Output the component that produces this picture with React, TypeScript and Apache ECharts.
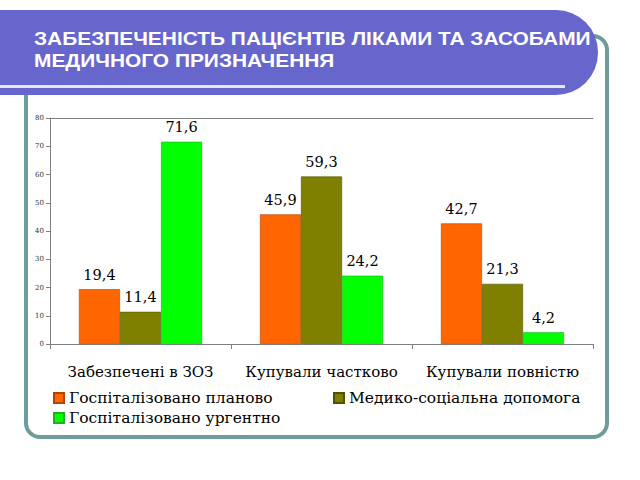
import React, { useEffect, useRef } from "react";
import * as echarts from "echarts";

const categories = ["Забезпечені в ЗОЗ", "Купували частково", "Купували повністю"];
const seriesNames = ["Госпіталізовано планово", "Медико-соціальна допомога", "Госпіталізовано ургентно"];
const plannedValues = [19.4, 45.9, 42.7];
const socialValues = [11.4, 59.3, 21.3];
const urgentValues = [71.6, 24.2, 4.2];
const colors = ["#FF6600", "#808000", "#00FF00"];
const borderColors = ["#B04400", "#505000", "#20B020"];
const titleLines = ["ЗАБЕЗПЕЧЕНІСТЬ ПАЦІЄНТІВ ЛІКАМИ ТА ЗАСОБАМИ", "МЕДИЧНОГО ПРИЗНАЧЕННЯ"];

const serif = "DejaVu Serif";

export default function App() {
  const ref = useRef<HTMLDivElement>(null);
  useEffect(() => {
    if (!ref.current) return;
    const chart = echarts.init(ref.current, undefined, { renderer: "svg" });
    const data = [plannedValues, socialValues, urgentValues];
    chart.setOption({
      animation: false,
      backgroundColor: "#ffffff",
      graphic: [
        {
          type: "rect",
          z: 0,
          shape: { x: 26, y: 36, width: 581, height: 401, r: 14 },
          style: { fill: "#ffffff", stroke: "#6E9C9A", lineWidth: 4 },
        },
        {
          type: "rect",
          z: 1,
          shape: { x: -50, y: 10, width: 648, height: 85, r: [0, 42, 42, 0] },
          style: { fill: "#6666CC" },
        },
        {
          type: "rect",
          z: 2,
          shape: { x: 0, y: 85, width: 565, height: 3 },
          style: { fill: "#E6E6F8" },
        },
        {
          type: "text",
          z: 3,
          x: 34,
          y: 27,
          scaleX: 1.1,
          style: {
            text: titleLines.join("\n"),
            fill: "#ffffff",
            font: "bold 19px Liberation Sans",
            lineHeight: 22,
          },
        },
      ],
      grid: { left: 50, right: 47, top: 118, bottom: 136, containLabel: false },
      legend: seriesNames.map((name, i) => ({
        data: [name],
        left: i === 1 ? 328 : 48,
        top: i === 2 ? 405 : 385,
        itemWidth: 10,
        itemHeight: 10,
        itemGap: 5,
        icon: "rect",
        selectedMode: false,
        textStyle: { fontFamily: serif, fontSize: 15.5, color: "#000" },
      })),
      xAxis: [
        {
          type: "category",
          data: categories,
          axisLine: { lineStyle: { color: "#808080", width: 1 } },
          axisTick: { show: true, alignWithLabel: false, length: 5, lineStyle: { color: "#808080" } },
          axisLabel: { interval: 0, fontFamily: serif, fontSize: 15, color: "#000", margin: 20 },
        },
        {
          type: "category",
          position: "top",
          data: categories,
          axisLine: { lineStyle: { color: "#808080", width: 1 } },
          axisTick: { show: false },
          axisLabel: { show: false },
        },
      ],
      yAxis: {
        type: "value",
        min: 0,
        max: 80,
        interval: 10,
        axisLine: { show: true, lineStyle: { color: "#808080" } },
        axisTick: { show: true, length: 4, lineStyle: { color: "#808080" } },
        splitLine: { show: false },
        axisLabel: { fontFamily: serif, fontSize: 7, color: "#333", margin: 6 },
      },
      series: seriesNames.map((name, i) => ({
        name,
        type: "bar",
        data: data[i],
        barGap: "0%",
        barCategoryGap: "32%",
        itemStyle: { color: colors[i], borderColor: borderColors[i], borderWidth: 0.6 },
        label: {
          show: true,
          position: "top",
          distance: 7,
          fontFamily: serif,
          fontSize: 14.5,
          color: "#000",
          formatter: (p: any) => String(p.value).replace(".", ","),
        },
      })),
    });
    return () => chart.dispose();
  }, []);
  return (
    <div
      ref={ref}
      style={{ position: "fixed", left: 0, top: 0, width: 640, height: 480 }}
    />
  );
}
